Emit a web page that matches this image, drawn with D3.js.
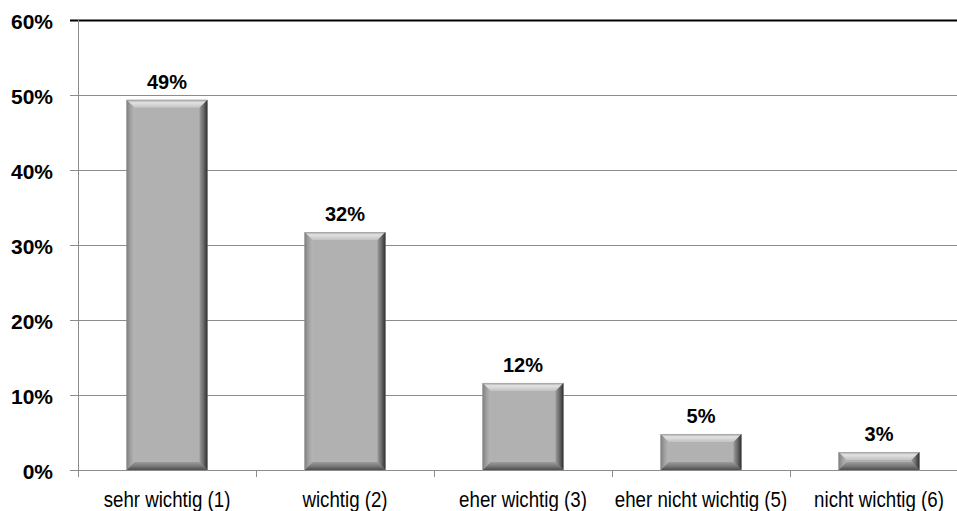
<!DOCTYPE html>
<html>
<head>
<meta charset="utf-8">
<script src="https://cdn.jsdelivr.net/npm/d3@7"></script>
<style>
  body { margin: 0; background: #fff; }
  svg { display: block; }
  .ylab, .vlab { font-family: "Liberation Sans", Arial, sans-serif; font-weight: bold; fill: #000; }
  .xlab { font-family: "Liberation Sans", Arial, sans-serif; fill: #000; }
</style>
</head>
<body>
<div id="chart"></div>
<script>
var categories = ["sehr wichtig (1)", "wichtig (2)", "eher wichtig (3)", "eher nicht wichtig (5)", "nicht wichtig (6)"];
var values = [0.493, 0.317, 0.116, 0.048, 0.024];
var valueLabels = ["49%", "32%", "12%", "5%", "3%"];
var yTicks = [0, 0.1, 0.2, 0.3, 0.4, 0.5, 0.6];

var W = 957, H = 511;
var svg = d3.select("#chart").append("svg")
    .attr("width", W)
    .attr("height", H);

var y = d3.scaleLinear().domain([0, 0.6]).range([470, 19.5]);
var x = d3.scaleBand().domain(categories).range([78, 968]).paddingInner(0.545).paddingOuter(0.2725);
var step = x.step();

// gridlines
svg.append("g").selectAll("line")
    .data(yTicks.slice(1))
    .enter().append("line")
    .attr("x1", 70).attr("x2", W)
    .attr("y1", function(d) { return Math.round(y(d)) + 0.5; })
    .attr("y2", function(d) { return Math.round(y(d)) + 0.5; })
    .attr("stroke", function(d) { return d === 0.6 ? "#000" : "#8c8c8c"; })
    .attr("stroke-width", function(d) { return d === 0.6 ? 2 : 1; });

// axis lines + ticks
svg.append("line")
    .attr("x1", 78.5).attr("x2", 78.5)
    .attr("y1", y(0.6)).attr("y2", 477)
    .attr("stroke", "#8c8c8c");
svg.append("line")
    .attr("x1", 70).attr("x2", W)
    .attr("y1", 470.5).attr("y2", 470.5)
    .attr("stroke", "#8c8c8c");
svg.append("g").selectAll("line")
    .data(categories)
    .enter().append("line")
    .attr("x1", function(d) { return Math.round(x(d) - (step - x.bandwidth()) / 2) + 0.5; })
    .attr("x2", function(d) { return Math.round(x(d) - (step - x.bandwidth()) / 2) + 0.5; })
    .attr("y1", 470).attr("y2", 477)
    .attr("stroke", "#8c8c8c");

svg.append("g").selectAll("text")
    .data(yTicks)
    .enter().append("text")
    .attr("class", "ylab")
    .attr("x", 53)
    .attr("y", function(d) { return y(d) + 9; })
    .attr("text-anchor", "end")
    .attr("font-size", 21)
    .text(d3.format(".0%"));

// bevel gradients
var defs = svg.append("defs");
function grad(id, x1, y1, x2, y2, stops) {
    var g = defs.append("linearGradient").attr("id", id)
        .attr("x1", x1).attr("y1", y1).attr("x2", x2).attr("y2", y2);
    stops.forEach(function(s) {
        g.append("stop").attr("offset", s[0]).attr("stop-color", s[1]);
    });
}
grad("gTop", 0, 0, 0, 1, [[0, "#9c9c9c"], [0.35, "#e2e2e2"], [1, "#c2c2c2"]]);
grad("gLeft", 0, 0, 1, 0, [[0, "#7e7e7e"], [0.5, "#a0a0a0"], [1, "#b6b6b6"]]);
grad("gRight", 1, 0, 0, 0, [[0, "#2e2e2e"], [0.5, "#6a6a6a"], [1, "#9a9a9a"]]);
grad("gBottom", 0, 1, 0, 0, [[0, "#4e4e4e"], [0.5, "#7a7a7a"], [1, "#9c9c9c"]]);

var bars = svg.append("g").selectAll("g")
    .data(values)
    .enter().append("g");

var bev = 8;
function pts(arr) { return arr.map(function(p) { return p.join(","); }).join(" "); }

bars.each(function(d, i) {
    var g = d3.select(this);
    var x0 = x(categories[i]), x1 = x0 + x.bandwidth();
    var y0 = y(d), y1 = y(0);
    var b = Math.min(bev, (y1 - y0) / 2);
    g.append("rect")
        .attr("x", x0).attr("y", y0)
        .attr("width", x1 - x0).attr("height", y1 - y0)
        .attr("fill", "#b1b1b1");
    g.append("polygon").attr("fill", "url(#gTop)")
        .attr("points", pts([[x0, y0], [x1, y0], [x1 - b, y0 + b], [x0 + b, y0 + b]]));
    g.append("polygon").attr("fill", "url(#gBottom)")
        .attr("points", pts([[x0, y1], [x1, y1], [x1 - b, y1 - b], [x0 + b, y1 - b]]));
    g.append("polygon").attr("fill", "url(#gLeft)")
        .attr("points", pts([[x0, y0], [x0 + b, y0 + b], [x0 + b, y1 - b], [x0, y1]]));
    g.append("polygon").attr("fill", "url(#gRight)")
        .attr("points", pts([[x1, y0], [x1 - b, y0 + b], [x1 - b, y1 - b], [x1, y1]]));
});

bars.append("text")
    .attr("class", "vlab")
    .attr("x", function(d, i) { return x(categories[i]) + x.bandwidth() / 2; })
    .attr("y", function(d) { return y(d) - 11; })
    .attr("text-anchor", "middle")
    .attr("font-size", 20)
    .text(function(d, i) { return valueLabels[i]; });

// category labels: condensed look (no narrow font installed)
svg.append("g").selectAll("text")
    .data(categories)
    .enter().append("text")
    .attr("class", "xlab")
    .attr("transform", function(d) { return "translate(" + (x(d) + x.bandwidth() / 2) + ",507) scale(0.85,1)"; })
    .attr("text-anchor", "middle")
    .attr("font-size", 22)
    .text(function(d) { return d; });
</script>
</body>
</html>
